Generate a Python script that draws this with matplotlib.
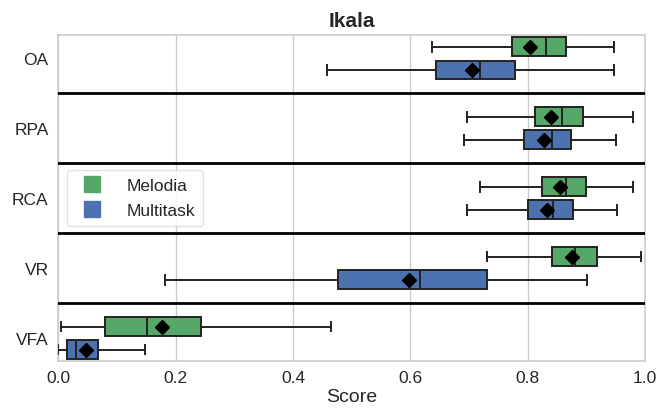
import matplotlib
matplotlib.use("Agg")
import matplotlib.pyplot as plt
from matplotlib.lines import Line2D

plt.rcParams['font.family'] = ['Liberation Sans', 'DejaVu Sans']

metrics = ['OA', 'RPA', 'RCA', 'VR', 'VFA']
systems = ['Melodia', 'Multitask']
colors = ['#55A868', '#4C72B0']

# five-number summaries plus mean, per metric
mel_whislo = [0.637, 0.697, 0.719, 0.731, 0.004]
mel_q1     = [0.773, 0.812, 0.825, 0.841, 0.080]
mel_med    = [0.831, 0.858, 0.865, 0.881, 0.151]
mel_q3     = [0.866, 0.895, 0.899, 0.919, 0.243]
mel_whishi = [0.948, 0.980, 0.980, 0.993, 0.465]
mel_mean   = [0.804, 0.840, 0.855, 0.876, 0.176]

mt_whislo = [0.458, 0.691, 0.697, 0.182, 0.000]
mt_q1     = [0.643, 0.794, 0.801, 0.477, 0.015]
mt_med    = [0.718, 0.841, 0.844, 0.617, 0.030]
mt_q3     = [0.778, 0.874, 0.877, 0.731, 0.068]
mt_whishi = [0.948, 0.951, 0.953, 0.902, 0.147]
mt_mean   = [0.706, 0.828, 0.833, 0.598, 0.047]


def make_stats(lo, q1, med, q3, hi, mean):
    return [dict(whislo=a, q1=b, med=c, q3=d, whishi=e, mean=f, fliers=[])
            for a, b, c, d, e, f in zip(lo, q1, med, q3, hi, mean)]


stats = [
    make_stats(mel_whislo, mel_q1, mel_med, mel_q3, mel_whishi, mel_mean),
    make_stats(mt_whislo, mt_q1, mt_med, mt_q3, mt_whishi, mt_mean),
]

fig = plt.figure(figsize=(6.69, 4.10), dpi=100)
ax = fig.add_axes([0.0871, 0.118, 0.8770, 0.795])

offset = 0.165
bw = 0.27
edge = '#222222'
for k, (st, col) in enumerate(zip(stats, colors)):
    pos = [i + (offset if k else -offset) for i in range(len(metrics))]
    ax.bxp(st, positions=pos, widths=bw, orientation='horizontal',
           patch_artist=True, showmeans=True, showfliers=False,
           boxprops=dict(facecolor=col, edgecolor=edge, linewidth=1.4),
           medianprops=dict(color=edge, linewidth=1.4),
           whiskerprops=dict(color=edge, linewidth=1.4),
           capprops=dict(color=edge, linewidth=1.4),
           meanprops=dict(marker='D', markerfacecolor='black',
                          markeredgecolor='black', markersize=7.5),
           manage_ticks=False, zorder=3)

# separators between metric groups
for i in range(len(metrics) - 1):
    ax.axhline(i + 0.5, color='black', linewidth=2, zorder=4)

ax.set_xlim(0, 1)
ax.set_ylim(4.32, -0.34)
ax.set_xticks([0.0, 0.2, 0.4, 0.6, 0.8, 1.0])
ax.set_xticklabels(['0.0', '0.2', '0.4', '0.6', '0.8', '1.0'])
ax.set_yticks(range(len(metrics)))
ax.set_yticklabels(metrics)
ax.tick_params(length=0, labelsize=12.5, colors='#262626', pad=7)
ax.grid(axis='x', color='#cccccc', linewidth=1, zorder=0)
ax.set_axisbelow(True)
for s in ax.spines.values():
    s.set_color('#cccccc')
    s.set_linewidth(1.2)

ax.set_xlabel('Score', fontsize=14, color='#262626', labelpad=2)
ax.set_title('Ikala', fontsize=15, fontweight='bold', color='#262626', pad=6.5)

handles = [Line2D([], [], marker='s', linestyle='none', markersize=11.5,
                  markerfacecolor=c, markeredgecolor=c) for c in colors]
leg = ax.legend(handles, systems, loc='upper left', bbox_to_anchor=(0.0153, 0.586),
                borderaxespad=0, fontsize=12.5, frameon=True, handlelength=2,
                handletextpad=0.95, borderpad=0.45, labelspacing=0.6)
leg.get_frame().set_edgecolor('#dddddd')
for t in leg.get_texts():
    t.set_color('#262626')

fig.savefig('out.png', dpi=100)
